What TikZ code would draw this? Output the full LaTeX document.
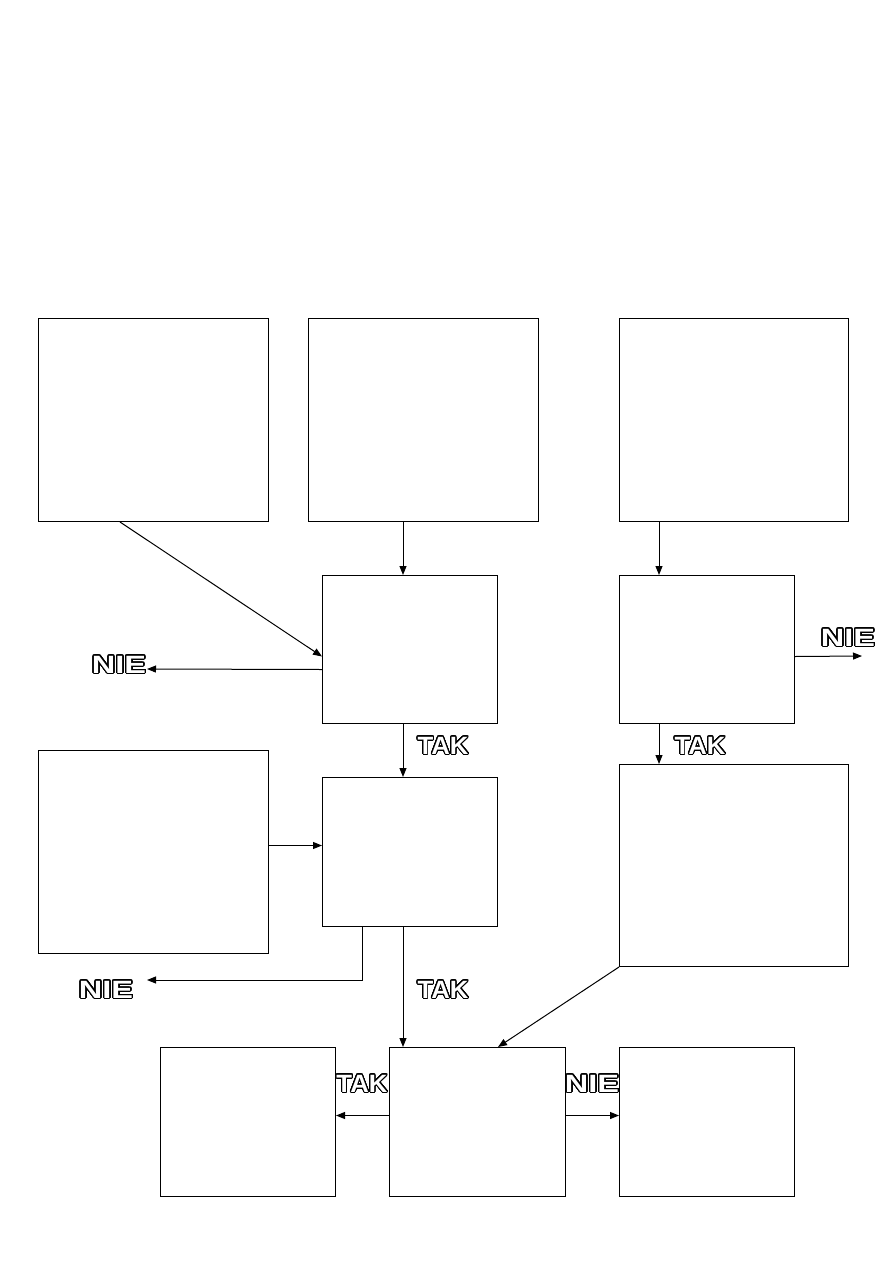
\documentclass[tikz,border=0pt]{standalone}
\usepackage{fontspec}
\setmainfont{Liberation Sans}
\usepackage{contour}
\usetikzlibrary{arrows.meta}
\contourlength{0.95pt}
\contournumber{48}
\newcommand{\outl}[2]{\scalebox{#1}[1]{\contour{black}{\textcolor{white}{#2}}}}
\begin{document}
\begin{tikzpicture}[x=1pt,y=-1pt,
  box/.style={draw,line width=1pt,anchor=north west,inner sep=0pt},
  arr/.style={-{Triangle[length=9pt,width=7pt]},line width=1pt},
  lbl/.style={font=\fontsize{25}{25}\selectfont\bfseries,inner sep=0pt}]
\useasboundingbox (0,0) rectangle (893,1263);
% boxes
\node[box,minimum width=230pt,minimum height=203pt] (a) at (38,318) {};
\node[box,minimum width=230pt,minimum height=203pt] (b) at (308,318) {};
\node[box,minimum width=229pt,minimum height=203pt] (c) at (619,318) {};
\node[box,minimum width=175pt,minimum height=148pt] (d) at (322,575) {};
\node[box,minimum width=175pt,minimum height=148pt] (e) at (619,575) {};
\node[box,minimum width=230pt,minimum height=203pt] (f) at (38,750) {};
\node[box,minimum width=175pt,minimum height=149pt] (g) at (322,777) {};
\node[box,minimum width=229pt,minimum height=202pt] (h) at (619,764) {};
\node[box,minimum width=175pt,minimum height=149pt] (i) at (160,1047) {};
\node[box,minimum width=176pt,minimum height=149pt] (j) at (389,1047) {};
\node[box,minimum width=175pt,minimum height=149pt] (k) at (619,1047) {};
% free ends
\coordinate (n1) at (147,669);
\coordinate (n2) at (862,656);
\coordinate (n3) at (147,980);
% connectors
\draw[arr] ([xshift=82pt]a.south west) -- ([yshift=-7pt]d.west);
\draw[arr] ([xshift=95pt]b.south west) -- ([xshift=81pt]d.north west);
\draw[arr] ([xshift=40pt]c.south west) -- ([xshift=40pt]e.north west);
\draw[arr] ([yshift=-20pt]d.west) -- (n1);
\draw[arr] ([yshift=-7pt]e.east) -- (n2);
\draw[arr] ([xshift=81pt]d.south west) -- ([xshift=81pt]g.north west);
\draw[arr] ([xshift=40pt]e.south west) -- ([xshift=40pt]h.north west);
\draw[arr] ([yshift=6.5pt]f.east) -- ([yshift=6.5pt]g.west);
\draw[arr] ([xshift=40pt]g.south west) |- (n3);
\draw[arr] ([xshift=81pt]g.south west) -- ([xshift=14pt]j.north west);
\draw[arr] (h.south west) -- ([xshift=109pt]j.north west);
\draw[arr] ([yshift=6.5pt]j.west) -- ([yshift=6.5pt]i.east);
\draw[arr] ([yshift=6.5pt]j.east) -- ([yshift=6.5pt]k.west);
% labels
\node[lbl] (l1) at (119,665) {\outl{1.3}{NIE}};
\node[lbl] (l2) at (848,638) {\outl{1.3}{NIE}};
\node[lbl] (l3) at (106,990) {\outl{1.3}{NIE}};
\node[lbl] (l4) at (592,1084) {\outl{1.3}{NIE}};
\node[lbl] (l5) at (443,746) {\outl{1.03}{TAK}};
\node[lbl] (l6) at (700,746) {\outl{1.03}{TAK}};
\node[lbl] (l7) at (443,990) {\outl{1.03}{TAK}};
\node[lbl] (l8) at (362,1084) {\outl{1.03}{TAK}};
\end{tikzpicture}
\end{document}
